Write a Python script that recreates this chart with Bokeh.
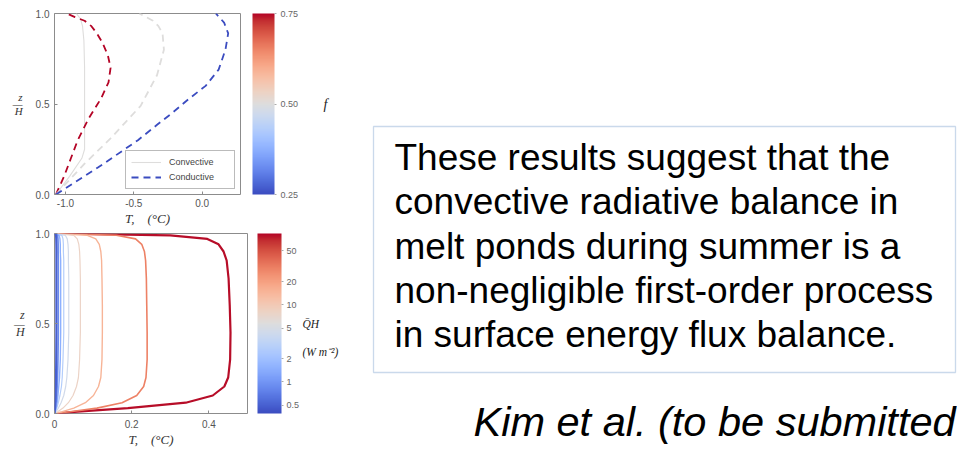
import numpy as np
from bokeh.plotting import figure
from bokeh.models import (LinearColorMapper, LogColorMapper, ColorBar, FixedTicker, LinearAxis,
                          NumeralTickFormatter, Label, BoxAnnotation, Legend, LegendItem,
                          Range1d, ColumnDataSource)
from bokeh.layouts import row, column
from bokeh.embed import file_html
from bokeh.resources import INLINE

# ---------------- data: upper panel (profiles for three values of f) ----------------
top_f = [0.75, 0.50, 0.25]
cond_z_f75 = [0.0, 0.10, 0.20, 0.30, 0.42, 0.53, 0.62, 0.70, 0.77, 0.84, 0.89, 0.93, 0.96, 0.98, 1.0]
cond_T_f75 = [-1.07, -1.01, -0.96, -0.91, -0.83, -0.74, -0.685, -0.67, -0.69, -0.73, -0.77, -0.81, -0.86, -0.93, -0.99]
cond_z_f50 = [0.0, 0.17, 0.31, 0.49, 0.66, 0.80, 0.89, 0.93, 0.96, 1.0]
cond_T_f50 = [-1.07, -0.86, -0.67, -0.45, -0.33, -0.28, -0.29, -0.32, -0.36, -0.46]
cond_z_f25 = [0.0, 0.15, 0.30, 0.385, 0.45, 0.53, 0.60, 0.69, 0.80, 0.89, 0.95, 1.0]
cond_T_f25 = [-1.07, -0.76, -0.47, -0.33, -0.22, -0.095, 0.025, 0.12, 0.17, 0.19, 0.16, 0.10]
conv_f = [0.50]
conv_z = [0.0, 0.10, 0.20, 0.25, 0.35, 0.50, 0.70, 0.85, 0.93, 0.97, 1.0]
conv_T = [-1.07, -0.97, -0.88, -0.86, -0.86, -0.86, -0.86, -0.865, -0.875, -0.89, -0.92]
top_xticks = [-1.0, -0.5, 0.0]
top_yticks = [0.0, 0.5, 1.0]
f_ticks = [0.25, 0.50, 0.75]
f_low, f_high = 0.25, 0.75

# ---------------- data: lower panel (profiles for several Q H) ----------------
bot_Q = [80, 30, 15, 8, 4.5, 2.7, 1.5, 0.87, 0.5]
bot_z = [0.0, 0.01, 0.03, 0.06, 0.10, 0.15, 0.20, 0.30, 0.45, 0.60, 0.75, 0.85, 0.90, 0.94, 0.97, 0.99, 1.0]
bot_T_Q80 = [0, 0.06, 0.19, 0.34, 0.41, 0.44, 0.45, 0.455, 0.456, 0.454, 0.451, 0.446, 0.438, 0.425, 0.396, 0.30, 0]
bot_T_Q30 = [0, 0.04, 0.11, 0.175, 0.213, 0.231, 0.237, 0.240, 0.240, 0.239, 0.238, 0.236, 0.233, 0.226, 0.210, 0.160, 0]
bot_T_Q15 = [0, 0.02, 0.05, 0.08, 0.101, 0.114, 0.120, 0.123, 0.124, 0.124, 0.123, 0.122, 0.120, 0.116, 0.107, 0.085, 0]
bot_T_Q8 = [0, 0.008, 0.022, 0.036, 0.048, 0.057, 0.062, 0.065, 0.067, 0.067, 0.067, 0.066, 0.065, 0.063, 0.059, 0.050, 0]
bot_T_Q4 = [0, 0.004, 0.010, 0.017, 0.024, 0.029, 0.032, 0.035, 0.037, 0.037, 0.037, 0.036, 0.036, 0.035, 0.033, 0.028, 0]
bot_T_Q2 = [0, 0.002, 0.006, 0.010, 0.014, 0.018, 0.020, 0.022, 0.024, 0.024, 0.024, 0.024, 0.023, 0.023, 0.022, 0.019, 0]
bot_T_Q1 = [0, 0.0015, 0.004, 0.007, 0.009, 0.011, 0.013, 0.015, 0.016, 0.016, 0.016, 0.016, 0.015, 0.015, 0.014, 0.012, 0]
bot_T_Q09 = [0, 0.001, 0.0025, 0.004, 0.006, 0.007, 0.008, 0.009, 0.010, 0.010, 0.010, 0.010, 0.0095, 0.0095, 0.009, 0.008, 0]
bot_T_Q05 = [0, 0.0005, 0.0012, 0.002, 0.003, 0.0035, 0.004, 0.0045, 0.005, 0.005, 0.005, 0.005, 0.005, 0.0048, 0.0045, 0.004, 0]
Q_ticks = [0.5, 1, 2, 5, 10, 20, 50]
Q_low, Q_high = 0.39, 84
bot_xticks = [0.0, 0.2, 0.4]
bot_yticks = [0.0, 0.5, 1.0]

# ---------------- text of the slide ----------------
x_title = "T,\u00a0\u00a0\u00a0\u00a0(\u00b0C)"
y_title = "z\n\u2014\nH"
f_title = "f"
Q_title = "\n\nQ\u0304H\n\n(W m\u207b\u00b2)"
box_lines = ["These results suggest that the",
             "convective radiative balance in",
             "melt ponds during summer is a",
             "non-negligible first-order process",
             "in surface energy flux balance."]
citation = "Kim et al. (to be submitted"

# ---------------- colour map (coolwarm) ----------------
cw_rgb = np.array([
    [59, 76, 192], [68, 90, 204], [77, 104, 215], [87, 117, 225], [98, 130, 234],
    [108, 142, 241], [119, 154, 247], [130, 165, 251], [141, 176, 254], [152, 185, 255],
    [163, 194, 255], [174, 201, 253], [184, 208, 249], [194, 213, 244], [204, 217, 238],
    [213, 219, 230], [221, 221, 221], [229, 216, 209], [236, 211, 197], [241, 204, 185],
    [245, 196, 173], [247, 187, 160], [247, 177, 148], [247, 166, 135], [244, 154, 123],
    [241, 141, 111], [236, 127, 99], [229, 112, 88], [222, 96, 77], [213, 80, 66],
    [203, 62, 56], [192, 40, 47], [180, 4, 38]], dtype=float)
cw_pos = np.linspace(0, 1, len(cw_rgb))
coolwarm = ["#%02x%02x%02x" % tuple(int(round(np.interp(t, cw_pos, cw_rgb[:, k]))) for k in range(3))
            for t in np.linspace(0, 1, 256)]

SANS = "Liberation Sans"
SERIF = "Liberation Serif"
FRAME = "#8c8c8c"
LEFT_W, BOT_W = 345, 352
RIGHT_W = 957 - BOT_W


def style(p, ylab_size, ylab_standoff):
    p.xgrid.visible = False
    p.ygrid.visible = False
    p.outline_line_color = FRAME
    p.outline_line_width = 1
    p.background_fill_color = "white"
    p.border_fill_color = "white"
    for ax in (p.xaxis[0], p.yaxis[0]):
        ax.axis_line_color = None
        ax.major_tick_line_color = FRAME
        ax.major_tick_in = 3
        ax.major_tick_out = 0
        ax.minor_tick_line_color = None
        ax.major_label_text_font = SANS
        ax.major_label_text_font_size = "10px"
        ax.major_label_text_color = "#555555"
        ax.axis_label_text_font = SERIF
        ax.axis_label_text_font_style = "italic"
        ax.axis_label_text_color = "#333333"
    p.xaxis.axis_label = x_title
    p.xaxis.axis_label_text_font_size = "13px"
    p.xaxis.axis_label_standoff = 1
    p.yaxis.axis_label = y_title
    p.yaxis.axis_label_orientation = "horizontal"
    p.yaxis.axis_label_text_font_size = ylab_size
    p.yaxis.axis_label_text_line_height = 0.62
    p.yaxis.axis_label_standoff = ylab_standoff


def title_axis(p, text, standoff, size):
    ax = LinearAxis(ticker=FixedTicker(ticks=[]), axis_label=text,
                    axis_label_orientation="horizontal", axis_label_standoff=standoff,
                    axis_label_text_font=SERIF, axis_label_text_font_style="italic",
                    axis_label_text_font_size=size, axis_label_text_color="#222222",
                    axis_line_color=None, major_tick_line_color=None, major_tick_out=0,
                    major_tick_in=0, major_label_standoff=0,
                    minor_tick_line_color=None, major_label_text_font_size="0px")
    p.add_layout(ax, "right")


def colorbar(mapper, ticks, fmt, width, shift, standoff):
    return ColorBar(color_mapper=mapper, ticker=FixedTicker(ticks=ticks),
                    formatter=NumeralTickFormatter(format=fmt), width=width, padding=0, margin=0,
                    location=(shift, 0),
                    major_label_text_font=SANS, major_label_text_font_size="9px",
                    major_label_text_color="#666666", label_standoff=standoff, bar_line_color=None,
                    major_tick_line_color="#aaaaaa", major_tick_in=0, major_tick_out=2,
                    border_line_color=None, background_fill_color=None)


# ---------------- upper panel ----------------
f_mapper = LinearColorMapper(palette=coolwarm, low=f_low, high=f_high)
top = figure(width=LEFT_W, height=228, x_range=Range1d(-1.08, 0.28), y_range=Range1d(0, 1),
             output_backend="svg", toolbar_location=None,
             min_border_left=53, min_border_right=103, min_border_top=13, min_border_bottom=30)
style(top, "11px", 10)
top.xaxis.ticker = FixedTicker(ticks=top_xticks)
top.yaxis.ticker = FixedTicker(ticks=top_yticks)
top.xaxis.formatter = NumeralTickFormatter(format="0.0")
top.yaxis.formatter = NumeralTickFormatter(format="0.0")
top.xaxis.major_label_standoff = 4
top.yaxis.major_label_standoff = 5

conv_src = ColumnDataSource(dict(xs=[conv_T], ys=[conv_z], f=conv_f))
r_conv = top.multi_line("xs", "ys", source=conv_src, line_width=1.1,
                        line_color={"field": "f", "transform": f_mapper})
cond_src = ColumnDataSource(dict(xs=[cond_T_f75, cond_T_f50, cond_T_f25],
                                 ys=[cond_z_f75, cond_z_f50, cond_z_f25], f=top_f))
r_cond = top.multi_line("xs", "ys", source=cond_src, line_width=1.8, line_dash="7 5",
                        line_color={"field": "f", "transform": f_mapper})

legend = Legend(items=[LegendItem(label="Convective", renderers=[r_conv], index=0),
                       LegendItem(label="Conductive", renderers=[r_cond], index=2)],
                location="bottom_right", label_text_font=SANS, label_text_font_size="9px",
                label_text_color="#444444", glyph_width=30, glyph_height=12, label_height=12,
                label_width=60, spacing=3, padding=5, margin=5, label_standoff=8,
                border_line_color="#777777", background_fill_color="white")
top.add_layout(legend)

top.add_layout(colorbar(f_mapper, f_ticks, "0.00", 22, 12, 4), "right")
title_axis(top, f_title, 22, "14px")

# ---------------- lower panel ----------------
Q_mapper = LogColorMapper(palette=coolwarm, low=Q_low, high=Q_high)
bot = figure(width=BOT_W, height=221, x_range=Range1d(0, 0.5), y_range=Range1d(0, 1),
             output_backend="svg", toolbar_location=None,
             min_border_left=54, min_border_right=105, min_border_top=5, min_border_bottom=35)
style(bot, "12px", 8)
bot.xaxis.ticker = FixedTicker(ticks=bot_xticks)
bot.yaxis.ticker = FixedTicker(ticks=bot_yticks)
bot.xaxis.formatter = NumeralTickFormatter(format="0.[0]")
bot.yaxis.formatter = NumeralTickFormatter(format="0.0")
bot.xaxis.major_label_standoff = 6
bot.yaxis.major_label_standoff = 5

bot_profiles = [bot_T_Q80, bot_T_Q30, bot_T_Q15, bot_T_Q8, bot_T_Q4, bot_T_Q2, bot_T_Q1, bot_T_Q09, bot_T_Q05]
bot_widths = [2.2, 1.6, 1.4, 1.2, 1.2, 1.2, 1.4, 1.6, 2.2]
bot_src = ColumnDataSource(dict(xs=bot_profiles, ys=[bot_z] * len(bot_Q), Q=bot_Q, w=bot_widths))
bot.multi_line("xs", "ys", source=bot_src, line_width="w",
               line_color={"field": "Q", "transform": Q_mapper})

bot.add_layout(colorbar(Q_mapper, Q_ticks, "0.[0]", 24, 10, 3), "right")
title_axis(bot, Q_title, 0, "11.5px")

# ---------------- right side of the slide ----------------
right = figure(width=RIGHT_W, height=449, x_range=Range1d(0, RIGHT_W), y_range=Range1d(0, 449),
               output_backend="svg", toolbar_location=None, min_border=0,
               x_axis_location=None, y_axis_location=None)
right.xgrid.visible = False
right.ygrid.visible = False
right.outline_line_color = None
right.add_layout(BoxAnnotation(left=373 - BOT_W, right=RIGHT_W - 2, bottom=77, top=323,
                               left_units="screen", right_units="screen",
                               bottom_units="screen", top_units="screen",
                               fill_alpha=0, line_color="#4f81bd", line_width=1.3))
for i, line in enumerate(box_lines):
    right.add_layout(Label(x=394 - BOT_W, y=292 - 44.3 * i, x_units="screen", y_units="screen",
                           text=line, text_font=SANS, text_font_size="37px", text_color="black",
                           text_baseline="middle"))
right.add_layout(Label(x=473 - BOT_W, y=28, x_units="screen", y_units="screen", text=citation,
                       text_font=SANS, text_font_size="41.5px", text_font_style="italic",
                       text_color="black", text_baseline="middle"))

layout = row(column(top, bot), right)
open("out.html", "w").write(file_html(layout, INLINE))
